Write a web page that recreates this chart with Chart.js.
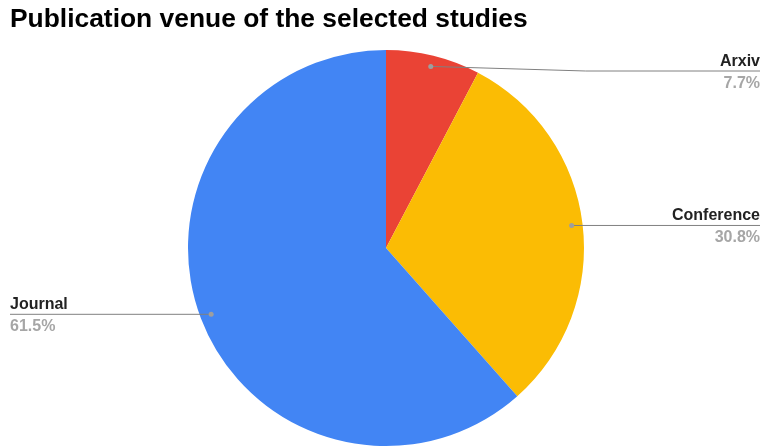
<!DOCTYPE html>
<html>
<head>
<meta charset="utf-8">
<script src="https://cdn.jsdelivr.net/npm/chart.js@4"></script>
<style>
  html, body { margin: 0; padding: 0; background: #fff; }
  #wrap { width: 761px; height: 447px; position: relative; }
</style>
</head>
<body>
<div id="wrap"><canvas id="venue"></canvas></div>
<script>
const chartTitle = 'Publication venue of the selected studies';
const venues = ['Arxiv', 'Conference', 'Journal'];
const studyCounts = [1, 4, 8];
const sliceColors = ['#EA4335', '#FBBC04', '#4285F4'];

const FONT = '"Liberation Sans", Arial, sans-serif';

// leader lines, dots and labels in the Google-charts style
const leaderLabels = {
    id: 'leaderLabels',
    afterDraw(chart) {
        const ctx = chart.ctx;
        const total = studyCounts.reduce((a, b) => a + b, 0);
        const meta = chart.getDatasetMeta(0);
        ctx.save();
        ctx.font = 'bold 26.4px ' + FONT;
        ctx.fillStyle = '#000';
        ctx.textAlign = 'left';
        ctx.textBaseline = 'alphabetic';
        ctx.fillText(chartTitle, 10, 27);

        meta.data.forEach((arc, i) => {
            const mid = (arc.startAngle + arc.endAngle) / 2;
            const r = arc.outerRadius - 11;
            const dx = arc.x + Math.cos(mid) * r;
            const dy = arc.y + Math.sin(mid) * r;
            const right = Math.cos(mid) >= 0;
            const lineY = Math.max(dy, 71);
            const endX = right ? chart.width - 1 : 10;

            ctx.strokeStyle = '#808080';
            ctx.lineWidth = 1;
            ctx.beginPath();
            ctx.moveTo(dx, dy);
            if (lineY !== dy) {
                ctx.lineTo(dx + 155, lineY);
            }
            ctx.lineTo(endX, lineY);
            ctx.stroke();

            ctx.fillStyle = '#9e9e9e';
            ctx.beginPath();
            ctx.arc(dx, dy, 2.5, 0, Math.PI * 2);
            ctx.fill();

            ctx.textAlign = right ? 'right' : 'left';
            ctx.font = 'bold 16px ' + FONT;
            ctx.fillStyle = '#222';
            ctx.fillText(venues[i], endX, lineY - 5);
            ctx.fillStyle = '#a6a6a6';
            const pct = (studyCounts[i] / total * 100).toFixed(1) + '%';
            ctx.fillText(pct, endX, lineY + 17);
        });
        ctx.restore();
    }
};

new Chart(document.getElementById('venue').getContext('2d'), {
    type: 'pie',
    data: {
        labels: venues,
        datasets: [{
            data: studyCounts,
            backgroundColor: sliceColors,
            borderWidth: 0,
        }],
    },
    options: {
        responsive: true,
        maintainAspectRatio: false,
        animation: false,
        layout: {
            padding: { top: 50, bottom: 1, left: 11, right: 0 }
        },
        plugins: {
            legend: { display: false },
            tooltip: { enabled: false },
            title: { display: false },
        },
    },
    plugins: [leaderLabels],
});
</script>
</body>
</html>
